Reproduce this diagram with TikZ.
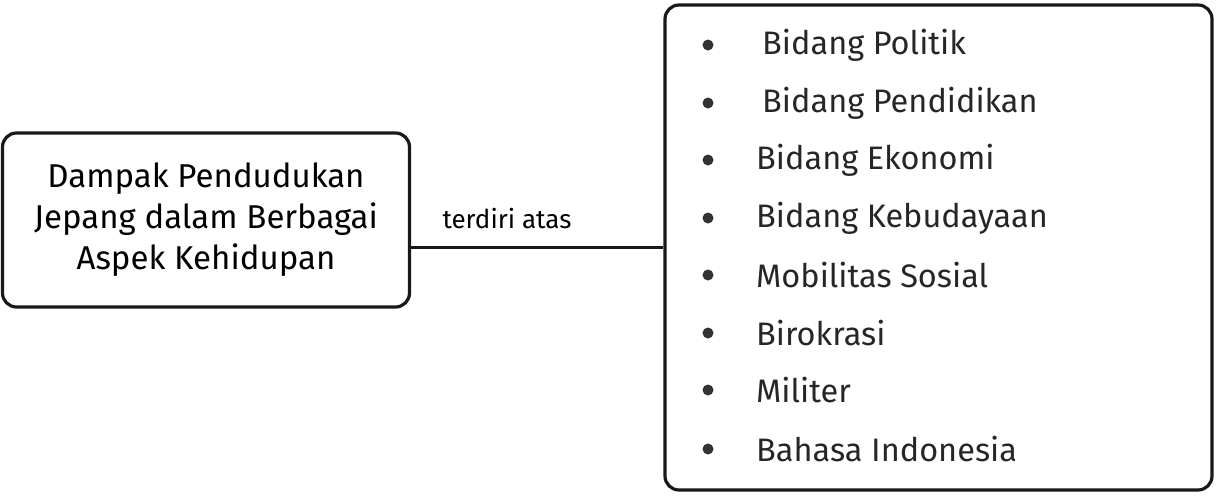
\documentclass[tikz,border=0pt]{standalone}
\usepackage{fontspec}
\setmainfont{Fira Sans}
\begin{document}
\begin{tikzpicture}[x=1pt,y=-1pt,
  boxst/.style={draw=black!90, line width=3.2pt, rounded corners=14pt},
  itemtxt/.style={anchor=west, font=\fontsize{32.5}{36}\selectfont, text=black!85, inner sep=0pt},
  bul/.style={circle, fill=black!80, minimum size=11pt, inner sep=0pt},
  conn/.style={draw=black!90, line width=3.2pt}]
\useasboundingbox (0,0) rectangle (1217,499);
\node[boxst, minimum width=407pt, minimum height=174pt, align=center,
      font=\fontsize{33}{41}\selectfont] (main) at (206,220)
  {Dampak Pendudukan\\Jepang dalam Berbagai\\Aspek Kehidupan};
\node[boxst, minimum width=547pt, minimum height=485pt] (list) at (938.5,247.5) {};
\draw[conn] (main.east |- list.west) -- (list.west) node[pos=0.38, above=14pt, font=\fontsize{26}{30}\selectfont] (lab) {terdiri atas};
\foreach \i/\t/\xx [count=\k] in {45/Bidang Politik/762, 103/Bidang Pendidikan/762, 160/Bidang Ekonomi/756, 218/Bidang Kebudayaan/756, 275/Mobilitas Sosial/756, 333/Birokrasi/756, 390/Militer/756, 449/Bahasa Indonesia/756} {
  \node[bul] (b\k) at (708,\i) {};
  \node[itemtxt] (t\k) at (\xx,\i) {\t};
}
\end{tikzpicture}
\end{document}
